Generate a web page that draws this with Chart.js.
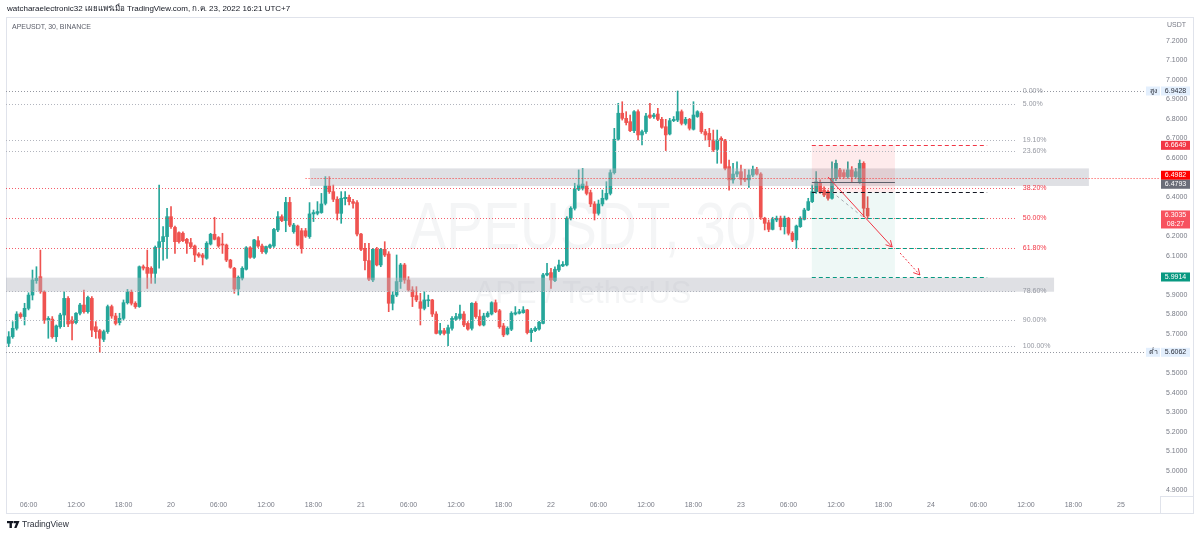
<!DOCTYPE html>
<html><head><meta charset="utf-8">
<style>html,body{margin:0;padding:0;background:#fff;}canvas{display:block;}</style>
<script src="https://cdn.jsdelivr.net/npm/chart.js@4.4.0/dist/chart.umd.min.js"></script>
</head><body>
<canvas id="c" width="1200" height="536"></canvas>
<script>
// ---- 30-minute candles, index 0 = Jul 20 00:00 ----
const FIRST_INDEX = -41;
const opens = [5.652,5.686,5.729,5.802,5.789,5.831,5.899,5.973,5.993,5.916,5.771,5.776,5.686,5.737,5.797,5.882,5.771,5.758,5.806,5.848,5.814,5.882,5.737,5.717,5.672,5.712,5.840,5.792,5.758,5.780,5.860,5.913,5.857,5.840,6.044,6.041,6.036,6.010,6.143,6.172,6.198,
6.300,6.245,6.218,6.215,6.184,6.167,6.150,6.109,6.104,6.087,6.160,6.210,6.193,6.160,6.155,6.078,6.036,5.930,5.985,6.031,6.141,6.092,6.177,6.150,6.118,6.143,6.150,6.232,6.300,6.280,6.373,6.223,6.252,6.228,6.228,6.198,6.314,6.317,6.321,6.368,6.457,6.428,6.389,6.317,6.392,6.399,6.377,6.372,6.211,6.138,6.075,5.976,6.133,6.053,6.133,6.109,5.857,5.899,5.968,6.053,5.976,5.925,5.896,5.865,5.831,5.870,5.874,5.802,5.703,5.717,5.703,5.729,5.775,5.780,5.802,5.754,5.729,5.857,5.789,5.746,5.789,5.802,5.860,5.819,5.741,5.700,5.724,5.802,5.806,5.809,5.823,5.707,5.717,5.725,5.754,6.002,6.014,5.973,6.027,6.048,
6.053,6.292,6.343,6.440,6.445,6.457,6.423,6.365,6.317,6.365,6.390,6.419,6.525,6.696,6.829,6.803,6.786,6.740,6.837,6.718,6.735,6.820,6.812,6.825,6.798,6.760,6.723,6.791,6.794,6.837,6.777,6.798,6.747,6.812,6.829,6.735,6.726,6.692,6.644,6.701,6.692,6.556,6.488,6.518,6.530,6.496,6.488,6.513,6.542,6.518,
6.292,6.269,6.235,6.283,6.292,6.249,6.292,6.215,6.181,6.249,6.286,6.334,6.377,6.428,6.474,6.436,6.428,6.394,6.496,6.539,6.525,6.505,6.539,6.505,6.474,6.573,6.343];
const highs = [5.712,5.763,5.814,5.809,5.857,5.911,6.027,6.044,6.129,5.921,5.789,5.789,5.746,5.806,5.916,5.891,5.789,5.809,5.857,5.925,5.894,5.891,5.763,5.724,5.720,5.848,5.848,5.806,5.806,5.874,5.928,5.925,5.865,6.048,6.053,6.129,6.044,6.150,6.462,6.249,6.343,
6.351,6.252,6.223,6.223,6.189,6.189,6.155,6.116,6.112,6.172,6.215,6.297,6.198,6.215,6.160,6.082,6.041,5.997,6.044,6.147,6.147,6.184,6.198,6.160,6.150,6.160,6.240,6.326,6.309,6.399,6.399,6.266,6.257,6.240,6.240,6.372,6.334,6.377,6.419,6.505,6.505,6.462,6.402,6.428,6.428,6.411,6.389,6.382,6.215,6.164,6.164,6.138,6.143,6.138,6.172,6.121,5.916,6.104,6.061,6.061,5.993,5.942,5.942,5.908,5.916,5.899,5.877,5.814,5.754,5.729,5.746,5.789,5.806,5.848,5.814,5.763,5.860,5.865,5.823,5.806,5.814,5.865,5.874,5.826,5.754,5.737,5.814,5.840,5.826,5.840,5.826,5.729,5.737,5.765,6.010,6.061,6.036,6.044,6.078,6.070,
6.300,6.351,6.471,6.539,6.547,6.479,6.436,6.377,6.385,6.436,6.479,6.539,6.752,6.880,6.888,6.837,6.820,6.842,6.846,6.743,6.829,6.880,6.829,6.854,6.808,6.798,6.803,6.812,6.9428,6.846,6.808,6.803,6.888,6.842,6.837,6.747,6.752,6.743,6.743,6.709,6.696,6.590,6.573,6.581,6.564,6.542,6.539,6.559,6.552,6.525,
6.297,6.283,6.297,6.303,6.303,6.303,6.297,6.223,6.257,6.300,6.343,6.394,6.462,6.530,6.488,6.453,6.436,6.581,6.590,6.547,6.539,6.581,6.556,6.547,6.590,6.581,6.402];
const lows = [5.635,5.678,5.720,5.780,5.746,5.823,5.874,5.959,5.908,5.754,5.678,5.678,5.661,5.729,5.737,5.737,5.669,5.751,5.797,5.806,5.806,5.686,5.678,5.6062,5.661,5.703,5.780,5.746,5.746,5.771,5.853,5.848,5.831,5.836,6.027,5.933,5.959,5.959,6.036,6.078,6.087,
6.240,6.112,6.164,6.172,6.112,6.138,6.070,6.092,6.053,6.082,6.155,6.181,6.143,6.112,6.070,6.036,5.908,5.899,5.976,6.027,6.087,6.087,6.143,6.112,6.109,6.138,6.143,6.223,6.274,6.223,6.249,6.215,6.150,6.113,6.194,6.189,6.275,6.309,6.317,6.360,6.419,6.377,6.283,6.266,6.360,6.360,6.343,6.201,6.126,6.027,5.973,5.968,6.048,6.044,6.096,5.814,5.823,5.891,5.933,5.959,5.916,5.840,5.865,5.746,5.823,5.840,5.789,5.700,5.695,5.695,5.640,5.720,5.768,5.775,5.737,5.720,5.720,5.780,5.741,5.741,5.785,5.797,5.809,5.729,5.686,5.695,5.717,5.797,5.802,5.806,5.700,5.661,5.712,5.720,5.751,5.997,5.933,5.968,6.019,6.044,
6.048,6.283,6.334,6.433,6.436,6.411,6.351,6.283,6.308,6.355,6.385,6.411,6.518,6.689,6.794,6.769,6.735,6.730,6.692,6.667,6.726,6.803,6.803,6.791,6.752,6.638,6.718,6.786,6.786,6.769,6.769,6.743,6.743,6.808,6.726,6.689,6.658,6.633,6.573,6.573,6.539,6.436,6.471,6.505,6.462,6.479,6.450,6.505,6.513,6.286,
6.232,6.223,6.232,6.274,6.232,6.211,6.206,6.172,6.138,6.245,6.283,6.331,6.372,6.419,6.419,6.402,6.385,6.389,6.484,6.496,6.496,6.496,6.479,6.496,6.470,6.300,6.292];
const closes = [5.686,5.729,5.802,5.789,5.831,5.899,5.976,5.985,5.916,5.771,5.780,5.686,5.741,5.797,5.882,5.751,5.754,5.806,5.848,5.814,5.887,5.720,5.712,5.678,5.712,5.840,5.792,5.754,5.780,5.860,5.916,5.857,5.840,6.044,6.037,6.010,6.010,6.143,6.172,6.198,6.300,
6.249,6.172,6.172,6.177,6.164,6.147,6.104,6.099,6.092,6.164,6.210,6.184,6.150,6.155,6.078,6.041,5.930,5.990,6.036,6.141,6.092,6.181,6.150,6.121,6.147,6.155,6.235,6.300,6.280,6.373,6.257,6.257,6.155,6.138,6.201,6.314,6.321,6.326,6.365,6.457,6.428,6.389,6.317,6.394,6.399,6.377,6.368,6.211,6.133,6.075,5.980,6.133,6.053,6.133,6.104,5.857,5.899,5.968,6.053,5.976,5.925,5.891,5.874,5.831,5.874,5.874,5.802,5.703,5.717,5.703,5.732,5.780,5.789,5.802,5.746,5.725,5.857,5.789,5.746,5.792,5.806,5.860,5.814,5.737,5.695,5.729,5.806,5.809,5.814,5.823,5.707,5.720,5.729,5.760,6.002,6.010,5.976,6.031,6.053,6.056,
6.292,6.343,6.440,6.462,6.467,6.419,6.365,6.317,6.365,6.394,6.419,6.525,6.696,6.829,6.803,6.781,6.740,6.837,6.718,6.735,6.815,6.808,6.820,6.798,6.757,6.718,6.791,6.798,6.837,6.777,6.798,6.752,6.820,6.837,6.735,6.718,6.692,6.641,6.692,6.689,6.547,6.488,6.518,6.530,6.491,6.488,6.513,6.542,6.518,6.297,
6.266,6.235,6.286,6.292,6.249,6.292,6.215,6.181,6.252,6.292,6.334,6.377,6.428,6.479,6.428,6.411,6.394,6.496,6.573,6.505,6.505,6.539,6.505,6.530,6.573,6.343,6.3035];

// ---- axis ticks ----
const xTickStart = -36;
const xTickLabels = ['06:00','12:00','18:00','20','06:00','12:00','18:00','21','06:00','12:00','18:00','22','06:00','12:00','18:00','23','06:00','12:00','18:00','24','06:00','12:00','18:00','25'];
const yTicks = [4.9,5.0,5.1,5.2,5.3,5.4,5.5,5.6,5.7,5.8,5.9,6.0,6.1,6.2,6.3,6.4,6.5,6.6,6.7,6.8,6.9,7.0,7.1,7.2];

// ---- fibonacci retracement ----
const fibHigh = 6.9428, fibLow = 5.640;
const fibLevels = [0,0.05,0.191,0.236,0.382,0.5,0.618,0.786,0.9,1];
const fibLabels = ['0.00%','5.00%','19.10%','23.60%','38.20%','50.00%','61.80%','78.60%','90.00%','100.00%'];
const fibHot = [0,0,0,0,1,1,1,0,0,0];
const fibEndIndex = 213.7;

// ---- drawings (time index, price) ----
const bandFrom = [35.1, -45], bandTo = [231.9, 223.1], bandHi = [6.547, 5.988], bandLo = [6.457, 5.916];
const redRay = {from: 34.0, level: 6.4982};
const posFrom = 161.9, posBoxTo = 182.9, posLineTo = 206.2;
const posStop = 6.6649, posEntry = 6.4247, posTargets = [6.292, 6.138, 5.9914];
const grayLevel = 6.4793;
const arrowSolid = [166.0, 6.503, 182.2, 6.145];
const arrowDashed = [184.2, 6.114, 189.2, 6.002];
const guideDashed = [167.0, 6.426, 174.8, 6.298];
const rangeHigh = 6.9428, rangeLow = 5.6062;

// ---- price labels on axis ----
const axisLabels = [
  {v: 6.9428, text: '6.9428', bg: '#e3effd', fg: '#2a2e39', tag: 'สูง'},
  {v: 6.6649, text: '6.6649', bg: '#f23645', fg: '#ffffff'},
  {v: 6.4982, text: '6.4982', bg: '#ff0000', fg: '#ffffff'},
  {v: 6.4793, text: '6.4793', bg: '#6a6d78', fg: '#ffffff'},
  {v: 6.3035, text: '6.3035', bg: '#f7525f', fg: '#ffffff', sub: '08:27'},
  {v: 5.9914, text: '5.9914', bg: '#089981', fg: '#ffffff'},
  {v: 5.6062, text: '5.6062', bg: '#e3effd', fg: '#2a2e39', tag: 'ต่ำ'}
];

const headerText = 'watcharaelectronic32 เผยแพร่เมื่อ TradingView.com, ก.ค. 23, 2022 16:21 UTC+7';
const symbolText = 'APEUSDT, 30, BINANCE';
const FONT = '"Liberation Sans", Arial, "Noto Sans", sans-serif';

const UP = '#26a69a', DOWN = '#ef5350';
const idx = opens.map((_, k) => FIRST_INDEX + k);
const bodyData = idx.map((x, k) => ({x, y: [opens[k], closes[k]]}));
const wickData = idx.map((x, k) => ({x, y: [lows[k], highs[k]]}));
const colorFor = k => closes[k] >= opens[k] ? UP : DOWN;

function hline(c, x1, x2, y, color, dash, w) {
  c.save(); c.strokeStyle = color; c.lineWidth = w || 1; c.setLineDash(dash || []);
  const yy = Math.round(y) + 0.5;
  c.beginPath(); c.moveTo(x1, yy); c.lineTo(x2, yy); c.stroke(); c.restore();
}
function arrow(c, x1, y1, x2, y2, color, dash) {
  c.save(); c.strokeStyle = color; c.lineWidth = 1; c.setLineDash(dash || []);
  c.beginPath(); c.moveTo(x1, y1); c.lineTo(x2, y2); c.stroke();
  c.setLineDash([]);
  const a = Math.atan2(y2 - y1, x2 - x1), L = 7;
  c.beginPath();
  c.moveTo(x2 - L * Math.cos(a - 0.5), y2 - L * Math.sin(a - 0.5));
  c.lineTo(x2, y2);
  c.lineTo(x2 - L * Math.cos(a + 0.5), y2 - L * Math.sin(a + 0.5));
  c.stroke(); c.restore();
}
function plainLine(c, x1, y1, x2, y2, color, dash) {
  c.save(); c.strokeStyle = color; c.lineWidth = 1; c.setLineDash(dash || []);
  c.beginPath(); c.moveTo(x1, y1); c.lineTo(x2, y2); c.stroke(); c.restore();
}

const decor = {
  id: 'decor',
  beforeDraw(chart) {
    const c = chart.ctx; c.save();
    c.fillStyle = '#fff'; c.fillRect(0, 0, chart.width, chart.height);
    c.textBaseline = 'middle'; c.textAlign = 'left';
    c.fillStyle = '#131722'; c.font = '8px ' + FONT;
    c.fillText(headerText, 7, 9);
    c.strokeStyle = '#e0e3eb'; c.lineWidth = 1;
    c.strokeRect(6.5, 17.5, 1187, 496);
    c.fillStyle = '#5d606b'; c.font = '7px ' + FONT;
    c.fillText(symbolText, 12, 27);
    // logo mark
    c.fillStyle = '#131722';
    c.fillRect(7, 521, 6, 2.2); c.fillRect(9.5, 521, 2.4, 7);
    c.beginPath(); c.moveTo(13.5, 521); c.lineTo(19.5, 521); c.lineTo(16.5, 528); c.lineTo(14.2, 528); c.lineTo(16, 523.2); c.lineTo(13.5, 523.2); c.closePath(); c.fill();
    c.font = '8.5px ' + FONT; c.fillStyle = '#2a2e39';
    c.fillText('TradingView', 22, 524.5);
    c.restore();
  },
  beforeDatasetsDraw(chart) {
    const c = chart.ctx, a = chart.chartArea;
    c.save();
    const cx = (a.left + a.right) / 2, cy = (a.top + a.bottom) / 2;
    c.fillStyle = 'rgba(120,123,134,0.08)'; c.textAlign = 'center'; c.textBaseline = 'alphabetic';
    c.font = '67px ' + FONT;
    const w = c.measureText('APEUSDT, 30').width;
    c.save(); c.translate(cx, cy - 8); c.scale(347 / w, 1); c.fillText('APEUSDT, 30', 0, 0); c.restore();
    c.font = '31px ' + FONT;
    c.fillText('APE / TetherUS', cx, cy + 46);
    c.restore();
  },
  afterDatasetsDraw(chart) {
    const c = chart.ctx, a = chart.chartArea, xs = chart.scales.x, ys = chart.scales.y;
    const X = v => xs.getPixelForValue(v), Y = v => ys.getPixelForValue(v);
    c.save();
    c.beginPath(); c.rect(a.left, a.top, a.right - a.left, a.bottom - a.top); c.clip();
    // gray zones
    for (let k = 0; k < bandFrom.length; k++) {
      c.fillStyle = 'rgba(178,181,190,0.42)';
      const x1 = Math.max(a.left, X(bandFrom[k])), x2 = X(bandTo[k]);
      c.fillRect(x1, Y(bandHi[k]), x2 - x1, Y(bandLo[k]) - Y(bandHi[k]));
    }
    // position tool
    c.fillStyle = 'rgba(242,54,69,0.10)';
    c.fillRect(X(posFrom), Y(posStop), X(posBoxTo) - X(posFrom), Y(posEntry) - Y(posStop));
    c.fillStyle = 'rgba(8,153,129,0.07)';
    c.fillRect(X(posFrom), Y(posEntry), X(posBoxTo) - X(posFrom), Y(posTargets[2]) - Y(posEntry));
    // fib levels
    c.font = '7px ' + FONT; c.textBaseline = 'middle'; c.textAlign = 'left';
    fibLevels.forEach((l, k) => {
      const p = fibHigh - l * (fibHigh - fibLow), y = Y(p);
      const col = fibHot[k] ? 'rgba(242,54,69,0.8)' : '#b2b5be';
      hline(c, a.left, X(fibEndIndex), y, col, [1, 2]);
      c.fillStyle = fibHot[k] ? '#f23645' : '#9598a1';
      c.fillText(fibLabels[k], X(fibEndIndex) + 6, y);
    });
    // range high / low markers
    hline(c, a.left, a.right - 14, Y(rangeHigh), '#9598a1', [1, 2]);
    hline(c, a.left, a.right - 14, Y(rangeLow), '#9598a1', [1, 2]);
    // red horizontal ray
    hline(c, X(redRay.from), a.right, Y(redRay.level), 'rgba(255,0,0,0.75)', [1, 2]);
    // position lines
    hline(c, X(posFrom), X(posLineTo), Y(posStop), '#f23645', [4, 3]);
    hline(c, X(posFrom), X(posLineTo), Y(posEntry), '#131722', [4, 3]);
    posTargets.forEach(t => hline(c, X(posFrom), X(posLineTo), Y(t), '#089981', [4, 3]));
    hline(c, X(posFrom), X(posBoxTo), Y(grayLevel), '#5d606b', [], 1);
    // arrows
    plainLine(c, X(guideDashed[0]), Y(guideDashed[1]), X(guideDashed[2]), Y(guideDashed[3]), 'rgba(149,152,161,0.8)', [3, 3]);
    arrow(c, X(arrowSolid[0]), Y(arrowSolid[1]), X(arrowSolid[2]), Y(arrowSolid[3]), '#f23645');
    arrow(c, X(arrowDashed[0]), Y(arrowDashed[1]), X(arrowDashed[2]), Y(arrowDashed[3]), '#f23645', [2, 2]);
    c.restore();
  },
  afterDraw(chart) {
    const c = chart.ctx, a = chart.chartArea, ys = chart.scales.y;
    c.save();
    c.font = '7px ' + FONT; c.textBaseline = 'middle'; c.textAlign = 'left';
    c.fillStyle = '#787b86'; c.fillText('USDT', a.right + 7, 25);
    // separators in axis corner
    c.strokeStyle = '#e0e3eb'; c.lineWidth = 1;
    c.beginPath(); c.moveTo(a.right + 0.5, a.bottom); c.lineTo(a.right + 0.5, 513); c.stroke();
    c.beginPath(); c.moveTo(a.right, a.bottom + 0.5); c.lineTo(1194, a.bottom + 0.5); c.stroke();
    // labels: overlapping ones are stacked around their mean position
    const items = axisLabels.map(l => ({...l, y: ys.getPixelForValue(l.v), h: l.sub ? 18 : 9}));
    items.sort((p, q) => p.y - q.y);
    const clusters = [];
    items.forEach(it => {
      const last = clusters[clusters.length - 1];
      if (last && it.y - it.h / 2 < last.bottom) {
        last.items.push(it);
        const mean = last.items.reduce((s, q) => s + q.y, 0) / last.items.length;
        const H = last.items.reduce((s, q) => s + q.h, 0);
        last.top = mean - H / 2; last.bottom = last.top + H;
      } else {
        const top = it.sub ? it.y - 5.5 : it.y - it.h / 2;
        clusters.push({items: [it], top, bottom: top + it.h});
      }
    });
    clusters.forEach(cl => {
      let top = cl.top;
      cl.items.forEach(it => {
        c.fillStyle = it.bg; c.fillRect(a.right + 1, top, 29, it.h);
        c.fillStyle = it.fg; c.textAlign = 'center';
        c.fillText(it.text, a.right + 15.5, it.sub ? top + 5 : top + it.h / 2);
        if (it.sub) c.fillText(it.sub, a.right + 15.5, top + 13.5);
        if (it.tag) {
          c.fillStyle = it.bg; c.fillRect(a.right - 14, top, 14, it.h);
          c.fillStyle = it.fg; c.fillText(it.tag, a.right - 7, top + it.h / 2);
        }
        top += it.h;
      });
    });
    c.restore();
  }
};

const nearLabel = v => axisLabels.some(l => Math.abs(l.v - v) * 195.5 < 6);

new Chart(document.getElementById('c'), {
  type: 'bar',
  data: {datasets: [
    {data: bodyData, backgroundColor: ctx => colorFor(ctx.dataIndex), barThickness: 3, grouped: false, minBarLength: 1, borderWidth: 0},
    {data: wickData, backgroundColor: ctx => colorFor(ctx.dataIndex), barThickness: 1, grouped: false, minBarLength: 1, borderWidth: 0}
  ]},
  options: {
    responsive: false, animation: false, devicePixelRatio: 1, events: [],
    layout: {padding: {left: 6, top: 17, right: 6, bottom: 23}},
    plugins: {legend: {display: false}, tooltip: {enabled: false}},
    scales: {
      x: {
        type: 'linear', min: -41.69, max: 249.87, offset: false,
        grid: {display: false, drawTicks: false}, border: {display: false},
        ticks: {autoSkip: false, maxRotation: 0, padding: 5, color: '#787b86', font: {family: FONT, size: 7},
          callback: v => xTickLabels[Math.round((v - xTickStart) / 12)] || ''},
        afterBuildTicks: s => { s.ticks = xTickLabels.map((_, k) => ({value: xTickStart + 12 * k})); },
        afterFit: s => { s.height = 17; s.paddingLeft = 0; s.paddingRight = 0; s.paddingTop = 0; s.paddingBottom = 0; }
      },
      y: {
        type: 'linear', position: 'right', min: 4.8712, max: 7.3213,
        grid: {display: false, drawTicks: false}, border: {display: false},
        ticks: {padding: 6, color: '#787b86', font: {family: FONT, size: 7},
          callback: v => nearLabel(v) ? '' : v.toFixed(4)},
        afterBuildTicks: s => { s.ticks = yTicks.map(v => ({value: v})); },
        afterFit: s => { s.width = 34; s.paddingLeft = 0; s.paddingRight = 0; s.paddingTop = 0; s.paddingBottom = 0; }
      }
    }
  },
  plugins: [decor]
});
</script>
</body></html>
